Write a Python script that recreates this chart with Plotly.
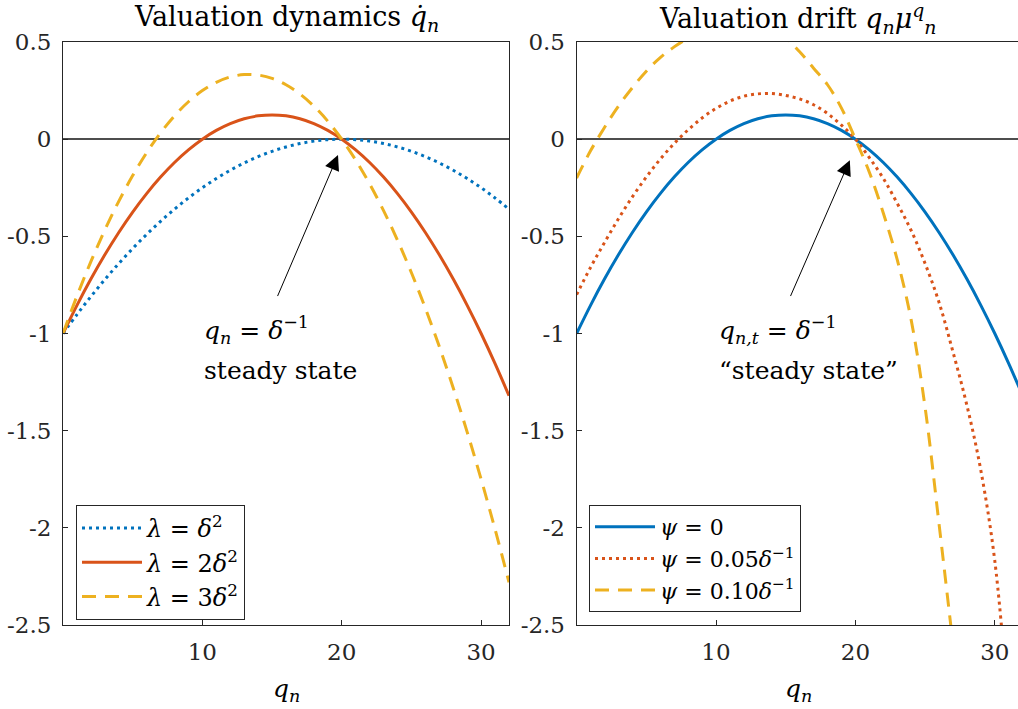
import plotly.graph_objects as go

# ---------------- data ----------------
q_grid = list(range(0, 33))  # q_n = 0 .. 32

# Left panel: valuation dynamics for three lambda values
lam1 = [-1.0, -0.9025, -0.81, -0.7225, -0.64, -0.5625, -0.49, -0.4225, -0.36, -0.3025,
        -0.25, -0.2025, -0.16, -0.1225, -0.09, -0.0625, -0.04, -0.0225, -0.01, -0.0025,
        0.0, -0.0025, -0.01, -0.0225, -0.04, -0.0625, -0.09, -0.1225, -0.16, -0.2025,
        -0.25, -0.3025, -0.36]
lam2 = [-1.0, -0.855, -0.72, -0.595, -0.48, -0.375, -0.28, -0.195, -0.12, -0.055,
        0.0, 0.045, 0.08, 0.105, 0.12, 0.125, 0.12, 0.105, 0.08, 0.045,
        0.0, -0.055, -0.12, -0.195, -0.28, -0.375, -0.48, -0.595, -0.72, -0.855,
        -1.0, -1.155, -1.32]
lam3 = [-1.0, -0.8075, -0.63, -0.4675, -0.32, -0.1875, -0.07, 0.0325, 0.12, 0.1925,
        0.25, 0.2925, 0.32, 0.3325, 0.33, 0.3125, 0.28, 0.2325, 0.17, 0.0925,
        0.0, -0.1075, -0.23, -0.3675, -0.52, -0.6875, -0.87, -1.0675, -1.28, -1.5075,
        -1.75, -2.0075, -2.28]

# Right panel: valuation drift for three psi values
psi0 = list(lam2)
psi05 = [-0.80, -0.66, -0.532, -0.41, -0.297, -0.195, -0.103, -0.022, 0.048, 0.109,
         0.158, 0.196, 0.221, 0.233, 0.235, 0.225, 0.207, 0.177, 0.132, 0.072,
         0.0, -0.095, -0.202, -0.33, -0.47, -0.64, -0.84, -1.095, -1.37, -1.705,
         -2.17, -2.95]
psi10 = [-0.20, -0.06, 0.06, 0.17, 0.265, 0.35, 0.42, 0.475, 0.52, 0.555,
         0.58, 0.595, 0.60, 0.59, 0.565, 0.52, 0.45, 0.365, 0.28, 0.16,
         0.0, -0.17, -0.38, -0.62, -0.93, -1.38, -1.98, -2.6]

left_names = ["<i>λ</i> = <i>δ</i><sup>2</sup>",
              "<i>λ</i> = 2<i>δ</i><sup>2</sup>",
              "<i>λ</i> = 3<i>δ</i><sup>2</sup>"]
right_names = ["<i>ψ</i> = 0",
               "<i>ψ</i> = 0.05<i>δ</i><sup>−1</sup>",
               "<i>ψ</i> = 0.10<i>δ</i><sup>−1</sup>"]

x_tickvals = [10, 20, 30]
x_ticktext = ["10", "20", "30"]
y_tickvals = [0.5, 0, -0.5, -1, -1.5, -2, -2.5]
y_ticktext = ["0.5", "0", "-0.5", "-1", "-1.5", "-2", "-2.5"]

# ---------------- styling ----------------
BLUE = "#0072BD"
ORANGE = "#D95319"
YELLOW = "#EDB120"
FONT = "DejaVu Serif"
AX = "#262626"
DOT = "3px,4px"
DASH = "14px,9px"
W = 3

fig = go.Figure()

def add(x, y, name, color, dash, xa, ya, leg):
    fig.add_trace(go.Scatter(
        x=x[:len(y)], y=y, name=name, mode="lines",
        line=dict(color=color, width=W, dash=dash, shape="spline", smoothing=1.0),
        xaxis=xa, yaxis=ya, legend=leg))

add(q_grid, lam1, left_names[0], BLUE, DOT, "x", "y", "legend")
add(q_grid, lam2, left_names[1], ORANGE, "solid", "x", "y", "legend")
add(q_grid, lam3, left_names[2], YELLOW, DASH, "x", "y", "legend")
add(q_grid, psi0, right_names[0], BLUE, "solid", "x2", "y2", "legend2")
add(q_grid, psi05, right_names[1], ORANGE, DOT, "x2", "y2", "legend2")
add(q_grid, psi10, right_names[2], YELLOW, DASH, "x2", "y2", "legend2")

FIG_W, FIG_H = 1018, 709
ydom = [1 - 625 / FIG_H, 1 - 42 / FIG_H]

axis_common = dict(showline=True, linecolor=AX, linewidth=1, ticks="inside", ticklen=5,
                   tickcolor=AX, tickwidth=1, showgrid=False, automargin=False,
                   tickfont=dict(family=FONT, size=23, color=AX), ticklabelstandoff=6)

legend_common = dict(xanchor="left", yanchor="top", bgcolor="white", bordercolor=AX,
                     borderwidth=1, tracegroupgap=0, itemwidth=60)

fig.update_layout(
    width=FIG_W, height=FIG_H, autosize=False,
    margin=dict(l=0, r=0, t=0, b=0, autoexpand=False),
    paper_bgcolor="white", plot_bgcolor="white",
    font=dict(family=FONT, color="black"),
    xaxis=dict(domain=[63 / FIG_W, 509 / FIG_W], range=[0, 32], anchor="y", mirror=True,
               tickvals=x_tickvals, ticktext=x_ticktext, zeroline=False, **axis_common),
    yaxis=dict(domain=ydom, range=[-2.5, 0.5], anchor="x", mirror=True,
               tickvals=y_tickvals, ticktext=y_ticktext,
               zeroline=True, zerolinecolor="#4d4d4d", zerolinewidth=1.5, **axis_common),
    xaxis2=dict(domain=[576.6 / FIG_W, 1.0], range=[0, (FIG_W - 576.6) / 13.94], anchor="y2",
                mirror=True, tickvals=x_tickvals, ticktext=x_ticktext, zeroline=False,
                **axis_common),
    yaxis2=dict(domain=ydom, range=[-2.5, 0.5], anchor="x2", mirror=False,
                tickvals=y_tickvals, ticktext=y_ticktext,
                zeroline=True, zerolinecolor="#4d4d4d", zerolinewidth=1.5, **axis_common),
    legend=dict(x=76 / FIG_W, y=1 - 505 / FIG_H,
                font=dict(family=FONT, size=24, color="black"), **legend_common),
    legend2=dict(x=589 / FIG_W, y=1 - 505 / FIG_H,
                 font=dict(family=FONT, size=22, color="black"), **legend_common),
    showlegend=True,
)

ann = []
TF = dict(family=FONT, size=25, color="black")
HF = dict(family=FONT, size=27, color="black")
# subplot titles
ann.append(dict(text="Valuation dynamics <i>q̇</i><sub><i>n</i></sub>", xref="paper", yref="paper",
                x=286 / FIG_W, y=1 - 19 / FIG_H, xanchor="center", yanchor="middle",
                showarrow=False, font=HF))
ann.append(dict(text="Valuation drift <i>q</i><sub><i>n</i></sub><i>μ</i><sup><i>q</i></sup><sub><i>n</i></sub>",
                xref="paper", yref="paper",
                x=798 / FIG_W, y=1 - 19 / FIG_H, xanchor="center", yanchor="middle",
                showarrow=False, font=HF))
# x-axis titles
for cx in (286, 798):
    ann.append(dict(text="<i>q</i><sub><i>n</i></sub>", xref="paper", yref="paper",
                    x=cx / FIG_W, y=1 - 690 / FIG_H, xanchor="center", yanchor="middle",
                    showarrow=False, font=TF))
# arrows
ann.append(dict(text="", x=19.73, y=-0.082, ax=15.35, ay=-0.815, xref="x", yref="y",
                axref="x", ayref="y", showarrow=True, arrowhead=2, arrowsize=3,
                arrowwidth=1, arrowcolor="black", standoff=0))
ann.append(dict(text="", x=19.6, y=-0.108, ax=15.3, ay=-0.815, xref="x2", yref="y2",
                axref="x2", ayref="y2", showarrow=True, arrowhead=2, arrowsize=3,
                arrowwidth=1, arrowcolor="black", standoff=0))
# annotation text
ann.append(dict(text="<i>q</i><sub><i>n</i></sub> = <i>δ</i><sup>−1</sup>", x=10.0, y=-0.98,
                xref="x", yref="y", xanchor="left", yanchor="middle", showarrow=False, font=TF))
ann.append(dict(text="steady state", x=10.0, y=-1.19,
                xref="x", yref="y", xanchor="left", yanchor="middle", showarrow=False, font=TF))
ann.append(dict(text="<i>q</i><sub><i>n,t</i></sub> = <i>δ</i><sup>−1</sup>", x=10.05, y=-0.98,
                xref="x2", yref="y2", xanchor="left", yanchor="middle", showarrow=False, font=TF))
ann.append(dict(text="“steady state”", x=10.05, y=-1.19,
                xref="x2", yref="y2", xanchor="left", yanchor="middle", showarrow=False, font=TF))
fig.update_layout(annotations=ann)

fig.write_html("out.html", config={"displayModeBar": False},
               post_script="document.body.style.margin='0';")
